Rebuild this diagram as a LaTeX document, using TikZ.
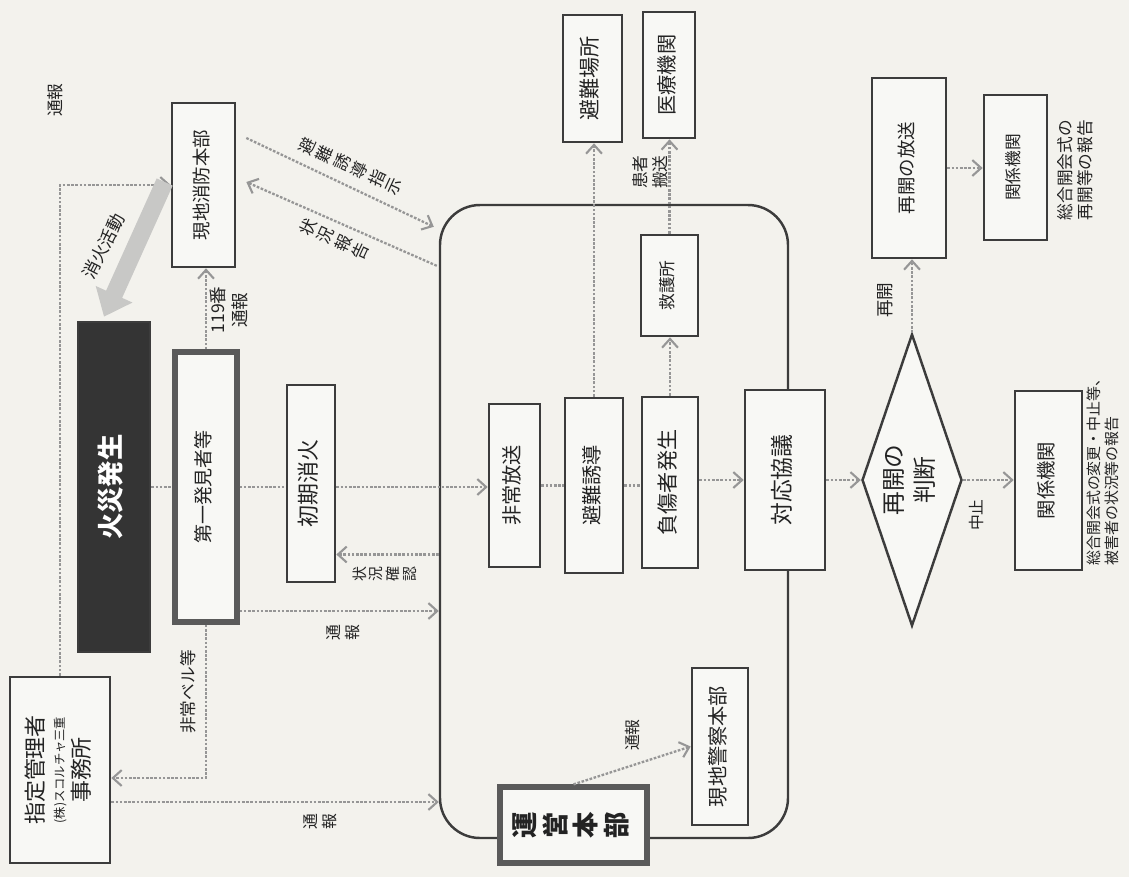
\documentclass[tikz,border=0pt]{standalone}
\usepackage{fontspec}
\setmainfont{Noto Sans CJK JP}
\usetikzlibrary{arrows.meta,shapes.geometric,calc}
\definecolor{bg}{RGB}{243,242,237}
\definecolor{edge}{RGB}{60,60,60}
\definecolor{thickedge}{RGB}{90,90,90}
\definecolor{conncol}{RGB}{150,150,150}
\definecolor{bigarrow}{RGB}{200,200,198}
\definecolor{firefill}{RGB}{52,52,52}
\definecolor{boxfill}{RGB}{248,248,245}
\definecolor{ink}{RGB}{35,35,35}
\newcommand{\rtx}[2][c]{\rotatebox{90}{\begin{tabular}{@{}#1@{}}#2\end{tabular}}}
\newcommand{\fsz}[2]{\fontsize{#1}{#2}\selectfont}
\tikzset{
  sz/.style 2 args={minimum width={#1*0.02cm}, minimum height={#2*0.02cm}},
  box/.style={draw=edge, line width=1.5pt, fill=boxfill, inner sep=0pt, text=ink},
  thickbox/.style={box, draw=thickedge, line width=3pt},
  plainline/.style={draw=conncol, line width=1.3pt, dash pattern=on 1.5pt off 0.9pt},
  conn/.style={plainline, -{Straight Barb[length=5pt,width=9pt,line width=1.2pt]}},
  lbl/.style={text=ink, inner sep=0pt}
}
\begin{document}
\begin{tikzpicture}[x=0.02cm,y=-0.02cm]
\fill[bg] (0,0) rectangle (1129,877);
\useasboundingbox (0,0) rectangle (1129,877);

% frame of the operating area
\node[draw=edge, line width=1.4pt, rounded corners=0.8cm, sz={348}{633}, inner sep=0pt] (frame) at (614,521.5) {};

% boxes
\node[box, sz={100}{186}, font=\fsz{12}{12}] (kanri) at (60,770)
  {\rtx{{\fsz{12.5}{12}指定管理者}\\{\fsz{7}{12}(株)スコルチャ三重}\\{\fsz{12.5}{12}事務所}}};
\node[box, fill=firefill, text=white, sz={72}{330}, font=\bfseries\fsz{15}{18}] (fire) at (114,487) {\rtx{火災発生}};
\node[thickbox, sz={62}{270}, font=\fsz{10.8}{13}] (hakken) at (206,487) {\rtx{第一発見者等}};
\node[box, sz={48}{197}, font=\fsz{12.5}{14}] (shoki) at (311,483.5) {\rtx{初期消火}};
\node[box, sz={63}{164}, font=\fsz{10.5}{12}] (shobo) at (203.5,185) {\rtx{現地消防本部}};

\node[box, sz={51}{163}, font=\fsz{11.5}{13}] (hijo) at (514.5,485.5) {\rtx{非常放送}};
\node[box, sz={58}{175}, font=\fsz{11.5}{13}] (yudo) at (594,485.5) {\rtx{避難誘導}};
\node[box, sz={56}{171}, font=\fsz{12}{14}] (fusho) at (670,482.5) {\rtx{負傷者発生}};
\node[box, sz={57}{101}, font=\fsz{9.5}{11}] (kyugo) at (669.5,285.5) {\rtx{救護所}};
\node[box, sz={80}{180}, font=\fsz{13}{15}] (taio) at (785,480) {\rtx{対応協議}};
\node[thickbox, sz={147}{76}, font=\bfseries\fsz{15}{15.6}] (unei) at (573.5,825) {\rtx{運\\営\\本\\部}};
\node[box, sz={56}{157}, font=\fsz{11.5}{13}] (keisatsu) at (720,746.5) {\rtx{現地警察本部}};
\node[box, sz={59}{127}, font=\fsz{12}{14}] (hinan) at (592.5,78.5) {\rtx{避難場所}};
\node[box, sz={52}{126}, font=\fsz{11.5}{13}] (iryo) at (669,75) {\rtx{医療機関}};

\node[diamond, draw=edge, line width=1.4pt, fill=boxfill, text=ink, minimum width=2cm, minimum height=5.84cm,
      shape aspect=0.34, inner sep=0pt, font=\fsz{13.5}{17.5}] (dia) at (912,480) {\rtx{再開の\\判断}};
\node[box, sz={74}{180}, font=\fsz{10.5}{12}] (saikai) at (909,168) {\rtx{再開の放送}};
\node[box, sz={63}{145}, font=\fsz{9.5}{11}] (kankei1) at (1015.5,167.5) {\rtx{関係機関}};
\node[box, sz={67}{179}, font=\fsz{11}{13}] (kankei2) at (1048.5,480.5) {\rtx{関係機関}};

% main flow
\draw[plainline] (fire.east) -- (fire.east -| hakken.west);
\draw[plainline] (hakken.east |- fire.east) -- (shoki.west |- fire.east);
\draw[conn] (shoki.east |- fire.east) -- (hijo.west |- fire.east);
\draw[plainline] (hijo.east) -- (hijo.east -| yudo.west);
\draw[plainline] (yudo.east |- hijo.east) -- (fusho.west |- hijo.east);
\draw[conn] (fusho.east |- taio.west) -- (taio.west);
\draw[conn] (taio.east) -- (dia.west);

% reports
\draw[conn] (hakken.north) -- (hakken.north |- shobo.south);
\draw[conn] (kanri.north) |- (shobo.west);
\coordinate (k1) at ($(kanri.east)+(0,8)$);
\draw[conn] (hakken.south) |- (k1);
\coordinate (k2) at ($(kanri.east)+(0,32)$);
\draw[conn] (k2) -- (k2 -| frame.west);
\coordinate (h2) at ($(hakken.east)+(0,124)$);
\draw[conn] (h2) -- (h2 -| frame.west);
\coordinate (s1) at ($(shoki.east)+(0,71)$);
\draw[conn] (s1 -| frame.west) -- (s1);

% fire brigade exchanges
\draw[conn] ($(shobo.east)+(10,-47)$) -- ($(frame.north west)+(-5,23)$);
\draw[conn] ($(frame.north west)+(-2,62)$) -- ($(shobo.east)+(10,-3)$);

% big arrow: fire fighting
\draw[line width=10pt, draw=bigarrow, -{Triangle[length=14pt,width=22pt]}]
  ($(shobo.west)+(-6,-3)$) -- ($(fire.north)+(-10,-4)$);

% evacuation / casualties
\draw[conn] (yudo.north) -- (yudo.north |- hinan.south);
\draw[conn] (fusho.north) -- (fusho.north |- kyugo.south);
\draw[conn] (kyugo.north) -- (kyugo.north |- iryo.south);
\draw[conn] (unei.north) -- (keisatsu.west);

% decision
\draw[conn] (dia.north) -- (dia.north |- saikai.south);
\draw[conn] (saikai.east) -- (saikai.east -| kankei1.west);
\draw[conn] (dia.east) -- (dia.east -| kankei2.west);

% labels
\node[lbl, font=\fsz{9.5}{11}] (l1) at (57,100) {\rtx{通報}};
\node[lbl, font=\fsz{10}{12}, rotate=63] (l2) at (104,246) {消火活動};
\node[lbl, font=\fsz{10}{12.5}] (l3) at (231,310) {\rtx{119番\\通報}};
\node[lbl, font=\fsz{9.5}{11}] (l4) at (190,692) {\rtx{非常ベル等}};
\node[lbl, font=\fsz{9}{10}] (l5) at (345,633) {\rtx{通\\報}};
\node[lbl, font=\fsz{9}{10}] (l6) at (322,822) {\rtx{通\\報}};
\node[lbl, font=\fsz{8.5}{8.2}] (l7) at (386,574) {\rtx{状\\況\\確\\認}};
\node[lbl, font=\fsz{9.5}{10.2}] (l8) at (352,167) {\rotatebox{65}{\begin{tabular}{@{}c@{}}避\\難\\誘\\導\\指\\示\end{tabular}}};
\node[lbl, font=\fsz{9.5}{10.2}] (l9) at (336,240) {\rotatebox{65}{\begin{tabular}{@{}c@{}}状\\況\\報\\告\end{tabular}}};
\node[lbl, font=\fsz{9.5}{10.5}] (l10) at (652,172) {\rtx{患者\\搬送}};
\node[lbl, font=\fsz{9}{11}] (l11) at (635,735) {\rtx{通報}};
\node[lbl, font=\fsz{10}{12}] (l12) at (887,300) {\rtx{再開}};
\node[lbl, font=\fsz{9}{11}] (l13) at (979,515) {\rtx{中止}};
\node[lbl, font=\fsz{9.5}{10.5}] (l14) at (1077,170) {\rtx{総合開会式の\\再開等の報告}};
\node[lbl, font=\fsz{8.5}{10}, anchor=south] (l15) at (1105,566) {\rtx[l]{総合開会式の変更・中止等、\\被害者の状況等の報告}};
\end{tikzpicture}
\end{document}
